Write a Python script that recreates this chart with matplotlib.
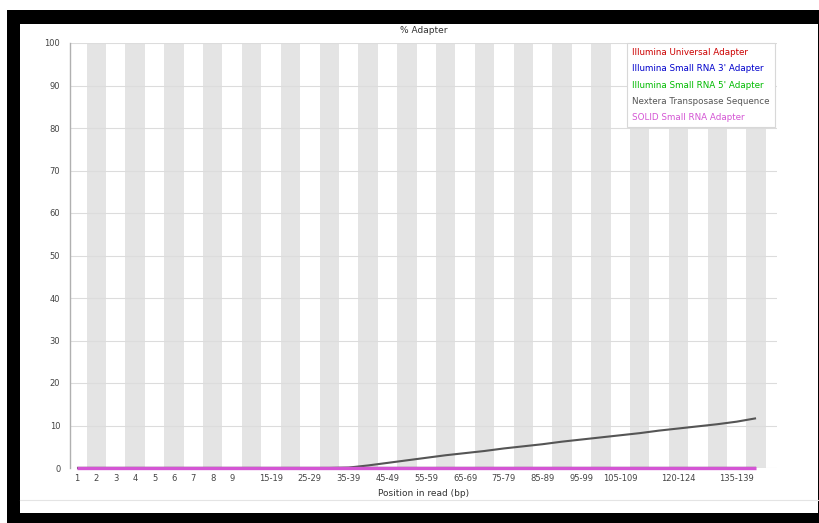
import matplotlib
matplotlib.use("Agg")
import matplotlib.pyplot as plt
from matplotlib.patches import Rectangle
from matplotlib.lines import Line2D

# Position bins along the read
categories = ["1", "2", "3", "4", "5", "6", "7", "8", "9",
              "10-14", "15-19", "20-24", "25-29", "30-34", "35-39",
              "40-44", "45-49", "50-54", "55-59", "60-64", "65-69",
              "70-74", "75-79", "80-84", "85-89", "90-94", "95-99",
              "100-104", "105-109", "110-114", "115-119", "120-124",
              "125-129", "130-134", "135-139", "140-144"]

# Labels printed under the axis (others are skipped to avoid overlap)
tick_labels = ["1", "2", "3", "4", "5", "6", "7", "8", "9",
               "", "15-19", "", "25-29", "", "35-39",
               "", "45-49", "", "55-59", "", "65-69",
               "", "75-79", "", "85-89", "", "95-99",
               "", "105-109", "", "", "120-124",
               "", "", "135-139", ""]

y_ticks = [0, 10, 20, 30, 40, 50, 60, 70, 80, 90, 100]

# Cumulative adapter content (%)
illumina_universal = [0.0] * 36
illumina_small_3 = [0.0] * 36
illumina_small_5 = [0.0] * 36
nextera = [0.0, 0.0, 0.0, 0.0, 0.0, 0.0, 0.0, 0.0, 0.0,
           0.0, 0.0, 0.0, 0.0, 0.0, 0.1,
           0.6, 1.2, 1.8, 2.4, 3.0, 3.5,
           4.0, 4.6, 5.1, 5.6, 6.2, 6.7,
           7.2, 7.7, 8.2, 8.8, 9.3,
           9.8, 10.3, 10.9, 11.7]
solid_small = [0.0] * 36

series = [
    ("Illumina Universal Adapter", illumina_universal, "#cc0000"),
    ("Illumina Small RNA 3' Adapter", illumina_small_3, "#0000cc"),
    ("Illumina Small RNA 5' Adapter", illumina_small_5, "#00bb00"),
    ("Nextera Transposase Sequence", nextera, "#555555"),
    ("SOLID Small RNA Adapter", solid_small, "#d455d4"),
]

W, H = 820, 523
fig = plt.figure(figsize=(W / 100, H / 100), dpi=100)
fig.patch.set_facecolor("white")


def fx(px):
    return px / W


def fy(py):
    return 1 - py / H


# Dark frame around the panel
fig.add_artist(Rectangle((fx(7), fy(523)), fx(813), 513 / H,
                         transform=fig.transFigure, facecolor="black",
                         edgecolor="none", zorder=-3))
fig.add_artist(Rectangle((fx(20), fy(513)), fx(798), 489 / H,
                         transform=fig.transFigure, facecolor="white",
                         edgecolor="none", zorder=-2))
fig.add_artist(Line2D([fx(20), fx(818)], [fy(500), fy(500)],
                      transform=fig.transFigure, color="#e4e4e4", lw=0.8,
                      zorder=-1))

ax = fig.add_axes([fx(70), fy(468), fx(707), 425 / H])
ax.set_zorder(2)
ax.set_facecolor("white")

n = len(categories)
x = list(range(n))
ax.set_xlim(-0.36, 36.08)
ax.set_ylim(0, 100)

# Alternating shaded columns
for i in range(1, n, 2):
    ax.axvspan(i - 0.5, i + 0.5, color="#e4e4e4", lw=0, zorder=0)

for v in y_ticks:
    ax.axhline(v, color="#dcdcdc", lw=0.8, zorder=1)

for label, values, color in series:
    lw = 2.4 if color == "#d455d4" else 1.5
    ax.plot(x, values, color=color, lw=lw, label=label, zorder=3,
            solid_capstyle="butt", clip_on=False)

for side in ["top", "right", "bottom"]:
    ax.spines[side].set_visible(False)
ax.spines["left"].set_color("#b0b0b0")
ax.spines["left"].set_linewidth(1.0)

ax.set_yticks(y_ticks)
ax.set_yticklabels([str(v) for v in y_ticks])
ax.set_xticks(x)
ax.set_xticklabels(tick_labels)
ax.tick_params(axis="y", length=0, pad=7, labelsize=6, labelcolor="#444444")
ax.tick_params(axis="x", length=0, pad=4, labelsize=6, labelcolor="#444444")

ax.set_title("% Adapter", fontsize=6.5, color="#333333", pad=7)
ax.set_xlabel("Position in read (bp)", fontsize=6.5, color="#333333",
              labelpad=5)

leg = ax.legend(loc="upper right", bbox_to_anchor=(0.997, 1.0),
                borderaxespad=0, handlelength=0, handletextpad=0,
                fontsize=6.3, labelspacing=0.82, fancybox=False,
                framealpha=1, edgecolor="#d8d8d8", borderpad=0.6,
                labelcolor="linecolor")
for h in leg.legend_handles:
    h.set_visible(False)
leg.get_frame().set_linewidth(0.8)
leg.set_zorder(5)

fig.savefig("out.png", dpi=100, facecolor="white")
